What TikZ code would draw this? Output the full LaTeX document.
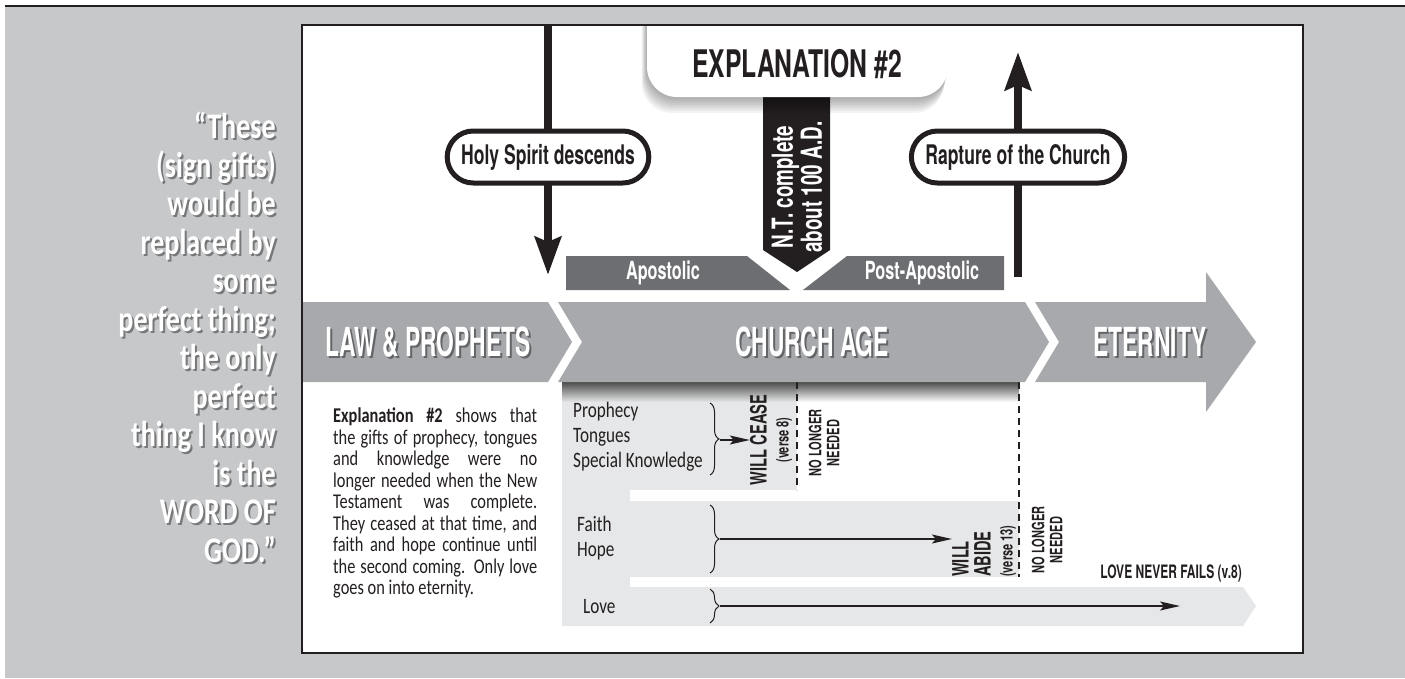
\documentclass[tikz,border=0pt]{standalone}
\usepackage{fontspec}
\usetikzlibrary{calc,positioning,arrows.meta,decorations.pathreplacing}
\newfontfamily\dinfont[FakeStretch=0.65]{TeX Gyre Heros}
\newfontfamily\bandfont[FakeStretch=0.57]{TeX Gyre Heros}
\newfontfamily\myriad[FakeStretch=0.78]{Carlito}
\definecolor{panelgray}{HTML}{C7C8CA}
\definecolor{bandgray}{HTML}{A7A9AC}
\definecolor{bargray}{HTML}{6D6E71}
\definecolor{rowgray}{HTML}{E6E7E8}
\definecolor{inkblack}{HTML}{231F20}
\tikzstyle{pill}      = [rectangle, rounded corners=26pt, draw=inkblack, line width=5pt, fill=white, minimum height=52pt, inner xsep=14pt, text=inkblack, font=\dinfont\bfseries\fontsize{27}{27}\selectfont]
\tikzstyle{bigarrow}  = [line width=8pt, inkblack, -{Stealth[length=38pt,width=26pt,inset=5pt]}]
\tikzstyle{thinarrow} = [line width=1.2pt, inkblack, -{Stealth[length=20pt,width=9pt,inset=4pt]}]
\tikzstyle{giftbrace} = [decorate, decoration={brace, amplitude=9pt}, line width=1pt, inkblack]
\tikzstyle{cutline}   = [dash pattern=on 7pt off 5pt, line width=1.8pt, inkblack]
\tikzstyle{rowtext}   = [anchor=north west, align=left, inner sep=0pt, text=inkblack, font=\myriad\fontsize{22}{25}\selectfont]
\tikzstyle{expltext}  = [anchor=north west, inner sep=0pt, text width=204pt, align=justify, text=inkblack, font=\myriad\fontsize{21}{21.5}\selectfont]
\tikzstyle{quotetext} = [anchor=north east, align=right, inner sep=0pt, font=\myriad\bfseries\fontsize{36}{38.5}\selectfont]
\tikzstyle{bandtitle} = [inner sep=0pt, font=\bandfont\bfseries\fontsize{40}{40}\selectfont]
\tikzstyle{bartext}   = [inner sep=0pt, text=white, font=\dinfont\bfseries\fontsize{25}{25}\selectfont]
\tikzstyle{vertbold}  = [rotate=90, inner sep=0pt, text=inkblack, font=\dinfont\bfseries\fontsize{22.5}{22}\selectfont]
\tikzstyle{vertsmall} = [rotate=90, inner sep=0pt, align=center, text=inkblack, font=\dinfont\bfseries\fontsize{17}{18}\selectfont]
% white text with a dark shadow
\newcommand{\shadowed}[4]{%
  \node[#3, text=black, text opacity=0.4] at ($(#2)+(2,2)$) {#4};
  \node[#3, text=white] (#1) at (#2) {#4};
}

\begin{document}
\begin{tikzpicture}[x=1pt, y=-1pt]
\useasboundingbox (0,0) rectangle (1405,678);
% page and panel
\fill[white] (0,0) rectangle (1405,678);
\fill[panelgray] (5,7) rectangle (1405,678);
\draw[line width=2.5pt, inkblack] (5,6) -- (1405,6);
\fill[white] (302,25) rectangle (1303,653);

% gift rows
\fill[rowgray] (562,382) rectangle (797,490);
\fill[rowgray] (562,382) rectangle (630,626);
\fill[rowgray] (562,501) rectangle (1019,577);
\fill[rowgray] (562,587) -- (1243,587) -- (1256,606) -- (1243,626) -- (562,626) -- cycle;
\shade[top color=black!70, bottom color=rowgray] (562,382) rectangle (797,402);
\shade[top color=black!70, bottom color=white] (797,382) rectangle (1019,402);
\draw[cutline] (797,382) -- (797,490);
\draw[cutline] (1019,382) -- (1019,577);

% time band
\fill[bandgray] (302,302) -- (548,302) -- (572,342) -- (548,382) -- (302,382) -- cycle;
\fill[bandgray] (558,302) -- (1025,302) -- (1049,342) -- (1025,382) -- (558,382) -- (582,342) -- cycle;
\fill[bandgray] (1035,302) -- (1206,302) -- (1206,272) -- (1256,342) -- (1206,412) -- (1206,382) -- (1035,382) -- (1059,342) -- cycle;
\shadowed{law}{428,342}{bandtitle}{LAW \& PROPHETS}
\shadowed{church}{812,342}{bandtitle}{CHURCH AGE}
\shadowed{eternity}{1150,342}{bandtitle}{ETERNITY}

% periods
\fill[bargray] (566,256) -- (747,256) -- (790,290) -- (566,290) -- cycle;
\fill[bargray] (847,256) -- (1004,256) -- (1004,290) -- (803,290) -- cycle;
\node[bartext] (apost) at (663,273) {Apostolic};
\node[bartext] (postapost) at (922,273) {Post-Apostolic};
\fill[inkblack] (763,90) -- (830,90) -- (830,250) -- (797,272) -- (763,250) -- cycle;
\node[rotate=90, inner sep=0pt, align=center, text=white, font=\dinfont\bfseries\fontsize{29}{29}\selectfont] (ntdate) at (797,187) {N.T. complete\\about 100 A.D.};

% events
\coordinate (hstop) at (548,25);
\coordinate (hstip) at (548,275);
\coordinate (rpbase) at (1018,277);
\coordinate (rptip) at (1018,52);
\draw[bigarrow] (hstop) -- (hstip);
\draw[bigarrow] (rpbase) -- (rptip);
\node[pill] (spirit) at (548,157) {Holy Spirit descends};
\node[pill] (rapture) at (1018,157) {Rapture of the Church};

% title tab
\begin{scope}
  \clip (302,25) rectangle (1303,653);
  \foreach \s in {2,4,...,16} {
    \fill[black, opacity=0.045, rounded corners=30pt] (647-\s/3,-60) rectangle (948-\s/4,97+\s);
  }
  \fill[white, rounded corners=30pt] (647,-60) rectangle (948,97);
\end{scope}
\node[inner sep=0pt, text=inkblack, font=\dinfont\bfseries\fontsize{38}{38}\selectfont] (title) at (797,64) {EXPLANATION \#2};

% row 1
\node[rowtext] (gifts1) at (573,402) {Prophecy\\Tongues\\Special Knowledge};
\draw[giftbrace] (710,403) -- (710,475);
\coordinate (b1) at (720,440);
\node[vertbold, align=center] (cease) at (771,440) {WILL CEASE\\{\fontsize{17}{17}\selectfont (verse 8)}};
\draw[thinarrow] (b1) -- (b1 -| cease.north);
\node[vertsmall] (nolonger1) at (824,443) {NO LONGER\\NEEDED};

% row 2
\node[rowtext] (gifts2) at (577,516) {Faith\\Hope};
\draw[giftbrace] (710,505) -- (710,573);
\coordinate (b2) at (720,539);
\node[vertbold, align=left, anchor=west] (abide) at (984,577) {WILL\\ABIDE\\{\fontsize{17}{17}\selectfont (verse 13)}};
\draw[thinarrow] (b2) -- (b2 -| abide.north);
\node[vertsmall] (nolonger2) at (1047,540) {NO LONGER\\NEEDED};

% row 3
\node[rowtext] (gifts3) at (583,599) {Love};
\draw[giftbrace] (710,589) -- (710,623);
\coordinate (b3) at (720,606);
\coordinate (loveend) at (1180,606);
\draw[thinarrow] (b3) -- (loveend);
\node[anchor=east, inner sep=0pt, text=inkblack, font=\dinfont\bfseries\fontsize{18.5}{18}\selectfont] (lovenote) at (1242,573) {LOVE NEVER FAILS (v.8)};

% explanation text
\node[expltext] (expl) at (333,408) {\textbf{Explanation \#2} shows that\linebreak the gifts of prophecy, tongues\linebreak and knowledge were no\linebreak longer needed when the New\linebreak Testament was complete.\linebreak They ceased at that time, and\linebreak faith and hope continue until\linebreak the second coming. Only love\linebreak goes on into eternity.};

% quote
\shadowed{quote}{276,112}{quotetext}{“These\\(sign gifts)\\would be\\replaced by\\some\\perfect thing;\\the only\\perfect\\thing I know\\is the\\WORD OF\\GOD.”}

\draw[line width=2.5pt, inkblack] (302,25) rectangle (1303,653);
\end{tikzpicture}
\end{document}
